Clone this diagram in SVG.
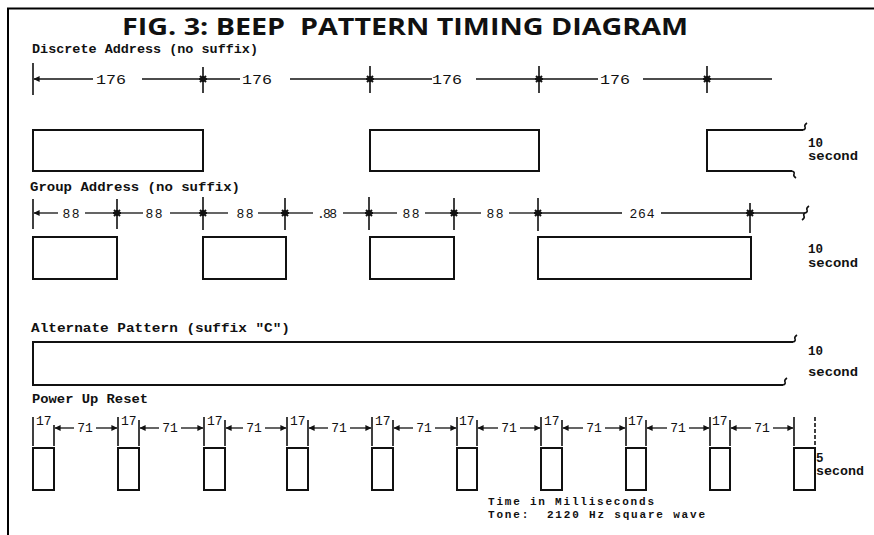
<svg xmlns="http://www.w3.org/2000/svg" xmlns:xlink="http://www.w3.org/1999/xlink" width="874" height="535" viewBox="0 0 874 535">
<style>
.frame{stroke:#000;stroke-width:2;fill:none}
.box{stroke:#111;stroke-width:2;fill:none}
.dim{stroke:#111;stroke-width:1.3;fill:none}
.tick{stroke:#111;stroke-width:1.6;fill:none}
.sq{stroke:#111;stroke-width:1.6;fill:none}
.title{font-family:"Open Sans","Liberation Sans",sans-serif;font-weight:bold;font-size:23px;fill:#111}
.lbl{font-family:"Liberation Mono","DejaVu Sans Mono",monospace;font-weight:bold;font-size:13.5px;fill:#111}
.num{font-family:"Liberation Mono","DejaVu Sans Mono",monospace;font-size:13px;fill:#111}
.sec{font-family:"Liberation Mono","DejaVu Sans Mono",monospace;font-weight:bold;font-size:12.5px;fill:#111}
.note{font-family:"Liberation Mono","DejaVu Sans Mono",monospace;font-weight:bold;font-size:11px;fill:#111}
</style>
<defs>
<marker id="ah" viewBox="0 0 8 8" refX="7.5" refY="4" markerWidth="6" markerHeight="6" markerUnits="userSpaceOnUse" orient="auto-start-reverse">
<path d="M0,0 L8,4 L0,8 Z" fill="#111"/>
</marker>
<path id="star" d="M-3,-3 L3,3 M3,-3 L-3,3 M-4,0 L4,0 M0,-3 L0,3" stroke="#111" stroke-width="2" fill="none"/>
</defs>
<rect width="874" height="535" fill="#fff"/>
<g id="frame">
<path class="frame" d="M8,535 L8,8.5 L874,8.5"/>
<text class="title" x="122" y="35" textLength="566" lengthAdjust="spacingAndGlyphs" xml:space="preserve">FIG. 3: BEEP  PATTERN TIMING DIAGRAM</text>
</g>

<g id="discrete">
<text class="lbl" x="32" y="53" textLength="226" lengthAdjust="spacingAndGlyphs">Discrete Address (no suffix)</text>
<rect class="box" x="33" y="130" width="170" height="41"/>
<rect class="box" x="370" y="130" width="169" height="41"/>
<path class="box" d="M803,130 L707,130 L707,171 L792,171"/>
<path class="sq" d="M803,130 q3,-1 2,-3 q-1,-2 2,-4"/>
<path class="sq" d="M792,171 q3,1 2,3 q-1,2 2,4"/>
<text class="sec" x="808" y="147">10</text>
<text class="sec" x="808" y="160" textLength="50" lengthAdjust="spacingAndGlyphs">second</text>
</g>

<g id="group">
<text class="lbl" x="30" y="191" textLength="210" lengthAdjust="spacingAndGlyphs">Group Address (no suffix)</text>
<rect class="box" x="33" y="237" width="84" height="42"/>
<rect class="box" x="203" y="237" width="83" height="42"/>
<rect class="box" x="370" y="237" width="84" height="42"/>
<rect class="box" x="538" y="237" width="213" height="42"/>
<text class="sec" x="808" y="253">10</text>
<text class="sec" x="808" y="267" textLength="50" lengthAdjust="spacingAndGlyphs">second</text>
</g>

<g id="alternate">
<text class="lbl" x="31" y="332" textLength="259" lengthAdjust="spacingAndGlyphs">Alternate Pattern (suffix "C")</text>
<path class="box" d="M793,342 L33,342 L33,385 L783,385"/>
<path class="sq" d="M793,342 q3,-1 2,-3 q-1,-2 2,-4"/>
<path class="sq" d="M783,385 q3,-1 2,-3 q-1,-2 2,-4"/>
<text class="sec" x="808" y="355">10</text>
<text class="sec" x="808" y="376" textLength="50" lengthAdjust="spacingAndGlyphs">second</text>
</g>

<g id="powerup">
<text class="lbl" x="32" y="403" textLength="116" lengthAdjust="spacingAndGlyphs">Power Up Reset</text>
<rect class="box" x="33" y="448" width="21" height="42"/>
<rect class="box" x="118" y="448" width="21" height="42"/>
<rect class="box" x="204" y="448" width="21" height="42"/>
<rect class="box" x="287" y="448" width="21" height="42"/>
<rect class="box" x="372" y="448" width="21" height="42"/>
<rect class="box" x="457" y="448" width="20" height="42"/>
<rect class="box" x="541" y="448" width="21" height="42"/>
<rect class="box" x="626" y="448" width="20" height="42"/>
<rect class="box" x="710" y="448" width="20" height="42"/>
<rect class="box" x="794" y="448" width="21" height="42"/>
<text class="sec" x="816" y="462">5</text>
<text class="sec" x="816" y="475" textLength="48" lengthAdjust="spacingAndGlyphs">second</text>
</g>

<g id="legend">
<text class="note" x="488" y="505" textLength="166" lengthAdjust="spacing">Time in Milliseconds</text>
<text class="note" x="488" y="518" textLength="217" lengthAdjust="spacing" xml:space="preserve">Tone:  2120 Hz square wave</text>
</g>

<g id="connectors">
<path class="tick" d="M33,63 V95 M203,67 V93 M370,66 V93 M539,66 V93 M707,66 V93"/>
<line class="dim" x1="34" y1="79" x2="93" y2="79" marker-start="url(#ah)"/>
<line class="dim" x1="142" y1="79" x2="200" y2="79"/>
<line class="dim" x1="206" y1="79" x2="240" y2="79"/>
<line class="dim" x1="290" y1="79" x2="367" y2="79"/>
<line class="dim" x1="373" y1="79" x2="432" y2="79"/>
<line class="dim" x1="476" y1="79" x2="536" y2="79"/>
<line class="dim" x1="542" y1="79" x2="598" y2="79"/>
<line class="dim" x1="643" y1="79" x2="704" y2="79"/>
<line class="dim" x1="710" y1="79" x2="772" y2="79"/>
<use xlink:href="#star" x="203" y="79"/>
<use xlink:href="#star" x="370" y="79"/>
<use xlink:href="#star" x="539" y="79"/>
<use xlink:href="#star" x="707" y="79"/>
<text class="num" x="111" y="84" text-anchor="middle" textLength="30" lengthAdjust="spacingAndGlyphs">176</text>
<text class="num" x="257" y="84" text-anchor="middle" textLength="30" lengthAdjust="spacingAndGlyphs">176</text>
<text class="num" x="447" y="84" text-anchor="middle" textLength="30" lengthAdjust="spacingAndGlyphs">176</text>
<text class="num" x="615" y="84" text-anchor="middle" textLength="30" lengthAdjust="spacingAndGlyphs">176</text>

<path class="tick" d="M33,199 V229 M117,199 V229 M203,197 V230 M285,198 V230 M369,197 V230 M454,198 V230 M538,198 V231 M750,203 V233"/>
<line class="dim" x1="34" y1="213" x2="58" y2="213" marker-start="url(#ah)"/>
<line class="dim" x1="85" y1="213" x2="114" y2="213"/>
<line class="dim" x1="120" y1="213" x2="143" y2="213"/>
<line class="dim" x1="170" y1="213" x2="200" y2="213"/>
<line class="dim" x1="206" y1="213" x2="228" y2="213"/>
<line class="dim" x1="258" y1="213" x2="282" y2="213"/>
<line class="dim" x1="288" y1="213" x2="313" y2="213"/>
<line class="dim" x1="343" y1="213" x2="366" y2="213"/>
<line class="dim" x1="372" y1="213" x2="397" y2="213"/>
<line class="dim" x1="425" y1="213" x2="451" y2="213"/>
<line class="dim" x1="457" y1="213" x2="481" y2="213"/>
<line class="dim" x1="509" y1="213" x2="535" y2="213"/>
<line class="dim" x1="541" y1="213" x2="622" y2="213"/>
<line class="dim" x1="661" y1="213" x2="747" y2="213"/>
<line class="dim" x1="753" y1="213" x2="805" y2="213"/>
<path class="sq" d="M805,213 q3,-1 2,-3 q-1,-2 2,-4 M805,213 q-2,1 -1,3 q1,2 -2,4"/>
<use xlink:href="#star" x="117" y="213"/>
<use xlink:href="#star" x="203" y="213"/>
<use xlink:href="#star" x="285" y="213"/>
<use xlink:href="#star" x="369" y="213"/>
<use xlink:href="#star" x="454" y="213"/>
<use xlink:href="#star" x="538" y="213"/>
<use xlink:href="#star" x="750" y="213"/>
<text class="num" x="71" y="218" text-anchor="middle" textLength="17">88</text>
<text class="num" x="154" y="218" text-anchor="middle" textLength="17">88</text>
<text class="num" x="245" y="218" text-anchor="middle" textLength="17">88</text>
<text class="num" x="327" y="218" text-anchor="middle" textLength="20">.88</text>
<text class="num" x="411" y="218" text-anchor="middle" textLength="17">88</text>
<text class="num" x="495" y="218" text-anchor="middle" textLength="17">88</text>
<text class="num" x="642" y="218" text-anchor="middle" textLength="25">264</text>

<path class="tick" d="M33,417 V446 M54,425 V446 M118,417 V446 M139,420 V446 M204,417 V446 M225,420 V446 M287,417 V446 M308,420 V446 M372,417 V446 M393,420 V446 M457,417 V446 M477,420 V446 M541,417 V446 M562,420 V446 M626,417 V446 M646,420 V446 M710,417 V446 M730,420 V446 M794,417 V446"/>
<line class="tick" x1="815" y1="417" x2="815" y2="446" stroke-dasharray="4,2"/>
<text class="num" x="36" y="425">17</text>
<text class="num" x="121" y="425">17</text>
<text class="num" x="207" y="425">17</text>
<text class="num" x="290" y="425">17</text>
<text class="num" x="375" y="425">17</text>
<text class="num" x="459" y="425">17</text>
<text class="num" x="544" y="425">17</text>
<text class="num" x="628" y="425">17</text>
<text class="num" x="712" y="425">17</text>
<g>
<line class="dim" x1="55" y1="428" x2="74" y2="428" marker-start="url(#ah)"/>
<line class="dim" x1="96" y1="428" x2="117" y2="428" marker-end="url(#ah)"/>
<text class="num" x="85" y="432" text-anchor="middle">71</text>
<line class="dim" x1="140" y1="428" x2="159" y2="428" marker-start="url(#ah)"/>
<line class="dim" x1="181" y1="428" x2="203" y2="428" marker-end="url(#ah)"/>
<text class="num" x="170" y="432" text-anchor="middle">71</text>
<line class="dim" x1="226" y1="428" x2="243" y2="428" marker-start="url(#ah)"/>
<line class="dim" x1="265" y1="428" x2="286" y2="428" marker-end="url(#ah)"/>
<text class="num" x="254" y="432" text-anchor="middle">71</text>
<line class="dim" x1="309" y1="428" x2="328" y2="428" marker-start="url(#ah)"/>
<line class="dim" x1="350" y1="428" x2="371" y2="428" marker-end="url(#ah)"/>
<text class="num" x="339" y="432" text-anchor="middle">71</text>
<line class="dim" x1="394" y1="428" x2="413" y2="428" marker-start="url(#ah)"/>
<line class="dim" x1="435" y1="428" x2="456" y2="428" marker-end="url(#ah)"/>
<text class="num" x="424" y="432" text-anchor="middle">71</text>
<line class="dim" x1="478" y1="428" x2="498" y2="428" marker-start="url(#ah)"/>
<line class="dim" x1="520" y1="428" x2="540" y2="428" marker-end="url(#ah)"/>
<text class="num" x="509" y="432" text-anchor="middle">71</text>
<line class="dim" x1="563" y1="428" x2="583" y2="428" marker-start="url(#ah)"/>
<line class="dim" x1="605" y1="428" x2="625" y2="428" marker-end="url(#ah)"/>
<text class="num" x="594" y="432" text-anchor="middle">71</text>
<line class="dim" x1="647" y1="428" x2="667" y2="428" marker-start="url(#ah)"/>
<line class="dim" x1="689" y1="428" x2="709" y2="428" marker-end="url(#ah)"/>
<text class="num" x="678" y="432" text-anchor="middle">71</text>
<line class="dim" x1="731" y1="428" x2="751" y2="428" marker-start="url(#ah)"/>
<line class="dim" x1="773" y1="428" x2="793" y2="428" marker-end="url(#ah)"/>
<text class="num" x="762" y="432" text-anchor="middle">71</text>
</g>
</g>
</svg>
